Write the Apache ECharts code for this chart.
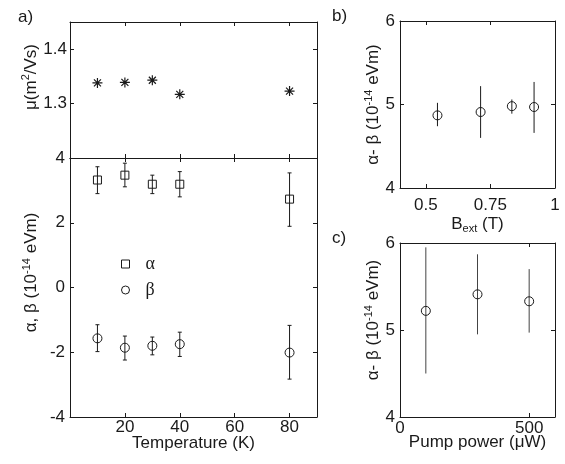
<!DOCTYPE html>
<html>
<head>
<meta charset="utf-8">
<script src="https://cdn.jsdelivr.net/npm/echarts@6.0.0/dist/echarts.min.js"></script>
<style>
  html, body { margin: 0; padding: 0; background: #fff; }
  #chart { width: 565px; height: 464px; }
</style>
</head>
<body>
<div id="chart"></div>
<script>
// panel a: temperature dependence
const tempK = [10, 20, 30, 40, 80];
const mobility = [1.338, 1.339, 1.343, 1.317, 1.323];
const alphaVal = [3.32, 3.47, 3.19, 3.19, 2.73];
const alphaLow = [2.90, 3.11, 2.90, 2.80, 1.89];
const alphaHigh = [3.73, 3.84, 3.47, 3.58, 3.54];
const betaVal = [-1.57, -1.86, -1.80, -1.75, -2.01];
const betaLow = [-1.98, -2.24, -2.08, -2.13, -2.83];
const betaHigh = [-1.15, -1.50, -1.53, -1.38, -1.17];

// panel b: external field
const bField = [0.545, 0.712, 0.833, 0.919];
const bDiff = [4.87, 4.91, 4.98, 4.97];
const bLow = [4.74, 4.60, 4.89, 4.66];
const bHigh = [5.02, 5.22, 5.06, 5.27];

// panel c: pump power
const pumpPower = [100, 300, 500];
const pDiff = [5.22, 5.41, 5.33];
const pLow = [4.50, 4.95, 4.97];
const pHigh = [5.95, 5.87, 5.70];

// tick labels
const tempTicks = [20, 40, 60, 80];
const muTicks = [1.3, 1.4];
const abTicks = [-4, -2, 0, 2, 4];
const bTicks = [0.5, 0.75, 1];
const pTicks = [0, 500];
const diffTicks = [4, 5, 6];

const FONT = 'Liberation Sans, Arial, sans-serif';
const INK = '#1a1a1a';
const rich = {
  n: { fontSize: 17, fontFamily: FONT, color: INK, lineHeight: 20 },
  sup: { fontSize: 11, fontFamily: FONT, color: INK, lineHeight: 12, verticalAlign: 'top' },
  sub: { fontSize: 11, fontFamily: FONT, color: INK, lineHeight: 12, verticalAlign: 'bottom' }
};

function axisPair(kind, grid, min, max, ticks, o) {
  o = o || {};
  const base = {
    type: 'value', gridIndex: grid, min: min, max: max,
    splitLine: { show: false },
    axisLine: { show: true, onZero: false, lineStyle: { color: INK, width: 1 } },
    axisTick: { show: true, inside: true, length: 4, customValues: ticks, lineStyle: { color: INK } }
  };
  const main = Object.assign({}, base, {
    position: kind === 'x' ? 'bottom' : 'left',
    axisLabel: {
      show: o.labels !== false, customValues: ticks, margin: o.margin || 5,
      fontSize: 17, fontFamily: FONT, color: INK,
      formatter: (v) => String(+v.toFixed(2))
    },
    name: o.name || '', nameLocation: 'middle', nameGap: o.nameGap || 20,
    nameRotate: kind === 'y' ? 90 : 0,
    nameTextStyle: { rich: rich, padding: o.namePad || 0 }
  });
  if (kind === 'x') main.nameMoveOverlap = false;
  const mirror = Object.assign({}, base, {
    position: kind === 'x' ? 'top' : 'right',
    axisLabel: { show: false }
  });
  return [main, mirror];
}

function errBars(axisIdx, xs, lo, hi, cap, color) {
  return {
    type: 'custom', xAxisIndex: axisIdx[0], yAxisIndex: axisIdx[1], silent: true, z: 1,
    data: xs.map((x, i) => [x, lo[i], hi[i]]),
    encode: { x: 0, y: [1, 2] },
    renderItem: (params, api) => {
      const x = api.value(0);
      const a = api.coord([x, api.value(1)]);
      const b = api.coord([x, api.value(2)]);
      const st = { stroke: color || INK, lineWidth: 1 };
      const kids = [{ type: 'line', shape: { x1: a[0], y1: a[1], x2: b[0], y2: b[1] }, style: st }];
      if (cap) {
        kids.push({ type: 'line', shape: { x1: a[0] - cap, y1: a[1], x2: a[0] + cap, y2: a[1] }, style: st });
        kids.push({ type: 'line', shape: { x1: b[0] - cap, y1: b[1], x2: b[0] + cap, y2: b[1] }, style: st });
      }
      return { type: 'group', children: kids };
    }
  };
}

const hollow = { color: 'rgba(0,0,0,0)', borderColor: INK, borderWidth: 1, opacity: 1 };

function markers(name, axisIdx, xs, ys, symbol, size, bw) {
  return {
    type: 'scatter', name: name, xAxisIndex: axisIdx[0], yAxisIndex: axisIdx[1], z: 2,
    symbol: symbol, symbolSize: size, silent: true,
    data: xs.map((x, i) => [x, ys[i]]),
    itemStyle: Object.assign({}, hollow, bw ? { borderWidth: bw } : {})
  };
}

const star = 'path://M5 0L5 10M0 5L10 5M1.5 1.5L8.5 8.5M1.5 8.5L8.5 1.5';

const xAxis = [].concat(
  axisPair('x', 0, 0, 90, tempTicks, { labels: false }),
  axisPair('x', 1, 0, 90, tempTicks, { name: '{n|Temperature (K)}', nameGap: 16, margin: 2 }),
  axisPair('x', 2, 0.4, 1, bTicks, { name: '{n|B}{sub|ext}{n| (T)}', nameGap: 26, margin: 9 }),
  axisPair('x', 3, 0, 600, pTicks, { name: '{n|Pump power (μW)}', nameGap: 15, margin: 3 })
);
const yAxis = [].concat(
  axisPair('y', 0, 1.2, 1.45, muTicks, { name: '{n|μ(m}{sup|2}{n|/Vs)}', nameGap: 26, margin: 3, namePad: [0, 0, 0, 26] }),
  axisPair('y', 1, -4, 4, abTicks, { name: '{n|α, β (10}{sup|-14}{n| eVm)}', nameGap: 29, margin: 5, namePad: [0, 0, 0, 30] }),
  axisPair('y', 2, 4, 6, diffTicks, { name: '{n|α- β (10}{sup|-14}{n| eVm)}', nameGap: 16, margin: 5 }),
  axisPair('y', 3, 4, 6, diffTicks, { name: '{n|α- β (10}{sup|-14}{n| eVm)}', nameGap: 16, margin: 5, namePad: [0, 0, 0, 20] })
);

const titleStyle = { fontSize: 17, fontWeight: 'normal', fontFamily: FONT, color: INK };

const chart = echarts.init(document.getElementById('chart'), null, { renderer: 'canvas' });
chart.setOption({
  animation: false,
  backgroundColor: '#fff',
  textStyle: { fontFamily: FONT },
  grid: [
    { left: 70, top: 22, width: 247, height: 136, outerBoundsMode: 'none' },
    { left: 70, top: 158, width: 247, height: 259, outerBoundsMode: 'none' },
    { left: 400, top: 21, width: 155, height: 167, outerBoundsMode: 'none' },
    { left: 400, top: 243, width: 155, height: 174, outerBoundsMode: 'none' }
  ],
  title: [
    { text: 'a)', left: 13, top: 4, textStyle: titleStyle },
    { text: 'b)', left: 327, top: 3, textStyle: titleStyle },
    { text: 'c)', left: 327, top: 225, textStyle: titleStyle }
  ],
  legend: {
    orient: 'vertical', left: 116, top: 249, itemWidth: 8, itemHeight: 8, itemGap: 6,
    data: ['α', 'β'], selectedMode: false,
    itemStyle: hollow,
    textStyle: { fontSize: 18, fontFamily: 'Liberation Serif, serif', color: INK, padding: [0, 0, 0, 11], lineHeight: 20 }
  },
  xAxis: xAxis,
  yAxis: yAxis,
  series: [
    markers('μ', [0, 0], tempK, mobility, star, 10, 1.2),
    errBars([2, 2], tempK, alphaLow, alphaHigh, 2),
    markers('α', [2, 2], tempK, alphaVal, 'rect', 8),
    errBars([2, 2], tempK, betaLow, betaHigh, 2),
    markers('β', [2, 2], tempK, betaVal, 'circle', 9),
    errBars([4, 4], bField, bLow, bHigh, 0),
    markers('b', [4, 4], bField, bDiff, 'circle', 9),
    errBars([6, 6], pumpPower, pLow, pHigh, 0, '#444'),
    markers('c', [6, 6], pumpPower, pDiff, 'circle', 9)
  ]
});
</script>
</body>
</html>
